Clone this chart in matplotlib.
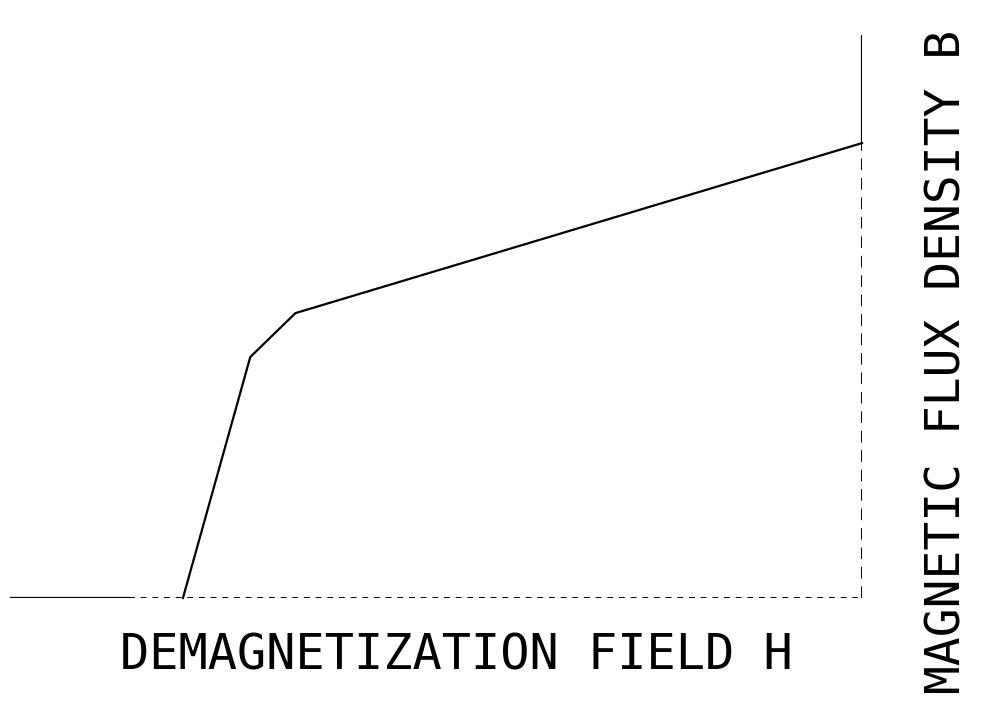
import matplotlib
matplotlib.use("Agg")
import matplotlib.pyplot as plt

# demagnetization curve (arbitrary units, H to the right, B up)
h_curve = [20.3, 28.2, 33.5, 100.0]
b_curve = [0.0, 42.8, 50.6, 80.8]
h_axis = [0.0, 100.0]
b_axis = [0.0, 100.0]
h_label = "DEMAGNETIZATION FIELD H"
b_label = "MAGNETIC FLUX DENSITY B"

fig = plt.figure(figsize=(9.97, 7.01), dpi=100)
ax = fig.add_axes([10/997, 103/701, 852/997, 563/701])
ax.set_xlim(h_axis)
ax.set_ylim(b_axis)
ax.axis("off")

# H axis: solid at the left, broken further on
ax.plot([h_axis[0], 14], [0, 0], color="black", lw=1.6, solid_capstyle="butt")
ax.plot([14, h_axis[1]], [0, 0], color="black", lw=1.4, ls=(0, (3, 3)))
# B axis: solid above the curve end, broken below
ax.plot([h_axis[1], h_axis[1]], [b_curve[-1], b_axis[1]], color="black", lw=1.6)
ax.plot([h_axis[1], h_axis[1]], [0, b_curve[-1]], color="black", lw=1.4, ls=(0, (6, 4)))

ax.plot(h_curve, b_curve, color="black", lw=1.6, clip_on=False)

fig.text(456/997, 1 - 655/701, h_label, ha="center", va="center",
         family="DejaVu Sans Mono", fontsize=35)
fig.text(947/997, 1 - 362/701, b_label, ha="center", va="center", rotation=90,
         family="DejaVu Sans Mono", fontsize=34.5)

fig.savefig("out.png", dpi=100, facecolor="white")
